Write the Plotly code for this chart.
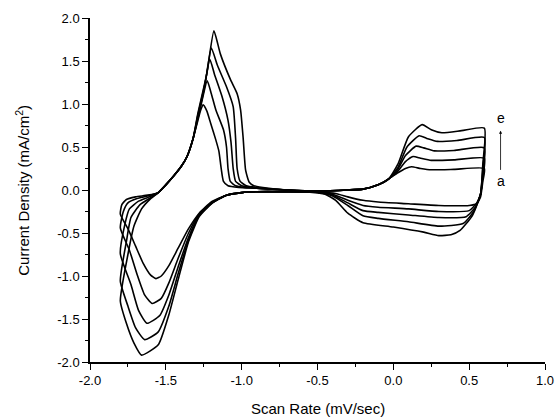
import plotly.graph_objects as go

# Curve a (smallest) ... e (largest): closed CV loops, potential (x) and current density (y)
E_a = [0.60, 0.59, 0.575, 0.55, 0.50, 0.30, 0.10, -0.10, -0.20, -0.30, -0.38, -0.50, -0.70, -0.90, -1.00, -1.10, -1.20, -1.28, -1.35, -1.42, -1.48, -1.53, -1.565, -1.60, -1.65, -1.70, -1.75, -1.80,
       -1.79, -1.76, -1.70, -1.62, -1.55, -1.50, -1.45, -1.40, -1.36, -1.32, -1.29, -1.27, -1.254,
       -1.23, -1.205, -1.17, -1.15, -1.135, -1.12, -1.09, -1.02, -0.90, -0.70, -0.50, -0.30, -0.20, -0.10, -0.03, 0.03, 0.08, 0.12, 0.18, 0.25, 0.40, 0.60]
I_a = [0.25, 0.10, -0.08, -0.16, -0.18, -0.18, -0.16, -0.14, -0.12, -0.08, -0.04, -0.025, -0.02, -0.02, -0.03, -0.06, -0.14, -0.27, -0.45, -0.68, -0.88, -1.00, -1.03, -0.99, -0.85, -0.65, -0.45, -0.28,
       -0.17, -0.11, -0.08, -0.06, -0.03, 0.06, 0.16, 0.27, 0.39, 0.60, 0.80, 0.93, 0.99,
       0.92, 0.78, 0.58, 0.45, 0.25, 0.10, 0.05, 0.03, 0.02, 0.00, -0.01, 0.00, 0.01, 0.06, 0.13, 0.20, 0.25, 0.27, 0.25, 0.235, 0.24, 0.25]

E_b = [0.60, 0.59, 0.575, 0.55, 0.50, 0.30, 0.10, -0.10, -0.20, -0.30, -0.40, -0.50, -0.70, -0.90, -1.00, -1.10, -1.20, -1.28, -1.35, -1.42, -1.48, -1.53, -1.59, -1.64, -1.69, -1.74, -1.80,
       -1.78, -1.75, -1.69, -1.62, -1.55, -1.50, -1.45, -1.40, -1.36, -1.32, -1.29, -1.26, -1.227,
       -1.20, -1.17, -1.12, -1.10, -1.09, -1.075, -1.04, -0.98, -0.90, -0.70, -0.50, -0.30, -0.20, -0.10, -0.03, 0.03, 0.08, 0.13, 0.18, 0.25, 0.40, 0.60]
I_b = [0.37, 0.15, -0.05, -0.15, -0.24, -0.25, -0.22, -0.20, -0.18, -0.12, -0.05, -0.025, -0.02, -0.02, -0.03, -0.06, -0.15, -0.28, -0.50, -0.80, -1.08, -1.26, -1.32, -1.22, -0.98, -0.70, -0.44,
       -0.25, -0.15, -0.10, -0.07, -0.03, 0.06, 0.16, 0.27, 0.39, 0.60, 0.82, 1.05, 1.27,
       1.12, 0.93, 0.70, 0.50, 0.25, 0.10, 0.05, 0.03, 0.02, 0.00, -0.01, 0.00, 0.01, 0.06, 0.13, 0.22, 0.33, 0.39, 0.37, 0.345, 0.35, 0.37]

E_c = [0.60, 0.59, 0.575, 0.54, 0.48, 0.30, 0.10, -0.10, -0.20, -0.30, -0.40, -0.50, -0.70, -0.90, -1.00, -1.10, -1.20, -1.28, -1.35, -1.42, -1.48, -1.54, -1.625, -1.68, -1.73, -1.80,
       -1.77, -1.74, -1.68, -1.61, -1.55, -1.50, -1.45, -1.40, -1.36, -1.32, -1.29, -1.25, -1.21,
       -1.18, -1.13, -1.09, -1.07, -1.056, -1.04, -1.00, -0.94, -0.90, -0.70, -0.50, -0.30, -0.20, -0.10, -0.03, 0.03, 0.08, 0.15, 0.20, 0.27, 0.40, 0.60]
I_c = [0.49, 0.20, -0.05, -0.20, -0.31, -0.32, -0.29, -0.26, -0.24, -0.15, -0.06, -0.025, -0.02, -0.02, -0.03, -0.06, -0.15, -0.29, -0.55, -0.90, -1.22, -1.46, -1.55, -1.40, -1.10, -0.74,
       -0.40, -0.22, -0.13, -0.08, -0.03, 0.06, 0.16, 0.27, 0.39, 0.60, 0.84, 1.15, 1.52,
       1.35, 1.09, 0.81, 0.55, 0.25, 0.10, 0.05, 0.03, 0.02, 0.00, -0.01, 0.00, 0.01, 0.06, 0.13, 0.24, 0.40, 0.51, 0.49, 0.455, 0.46, 0.49]

E_d = [0.60, 0.59, 0.575, 0.53, 0.46, 0.30, 0.10, -0.10, -0.20, -0.30, -0.40, -0.50, -0.70, -0.90, -1.00, -1.10, -1.20, -1.28, -1.35, -1.42, -1.48, -1.55, -1.64, -1.70, -1.75, -1.80,
       -1.76, -1.73, -1.67, -1.60, -1.55, -1.50, -1.45, -1.40, -1.36, -1.32, -1.29, -1.24, -1.20,
       -1.16, -1.10, -1.056, -1.04, -1.03, -1.01, -0.97, -0.90, -0.70, -0.50, -0.30, -0.20, -0.10, -0.03, 0.03, 0.09, 0.17, 0.22, 0.29, 0.42, 0.60]
I_d = [0.61, 0.25, -0.05, -0.25, -0.39, -0.42, -0.37, -0.33, -0.30, -0.18, -0.07, -0.025, -0.02, -0.02, -0.03, -0.06, -0.16, -0.30, -0.58, -0.98, -1.35, -1.65, -1.74, -1.60, -1.35, -1.06,
       -0.60, -0.32, -0.17, -0.09, -0.03, 0.06, 0.16, 0.27, 0.39, 0.60, 0.86, 1.25, 1.65,
       1.45, 1.20, 0.97, 0.60, 0.25, 0.10, 0.05, 0.03, 0.00, -0.01, 0.00, 0.01, 0.06, 0.13, 0.26, 0.50, 0.63, 0.60, 0.565, 0.575, 0.61]

E_e = [0.60, 0.59, 0.575, 0.52, 0.44, 0.38, 0.30, 0.20, 0.00, -0.20, -0.30, -0.38, -0.45, -0.55, -0.70, -0.90, -1.00, -1.10, -1.20, -1.28, -1.35, -1.42, -1.48, -1.55, -1.66, -1.71, -1.76, -1.80,
       -1.75, -1.71, -1.66, -1.60, -1.55, -1.50, -1.45, -1.40, -1.36, -1.32, -1.29, -1.23, -1.183,
       -1.14, -1.073, -1.03, -1.007, -0.99, -0.974, -0.95, -0.92, -0.86, -0.70, -0.50, -0.30, -0.20, -0.10, -0.03, 0.03, 0.10, 0.19, 0.25, 0.32, 0.45, 0.60]
I_e = [0.72, 0.30, -0.05, -0.30, -0.47, -0.52, -0.53, -0.49, -0.43, -0.38, -0.27, -0.12, -0.05, -0.025, -0.02, -0.02, -0.03, -0.06, -0.16, -0.31, -0.60, -1.05, -1.45, -1.80, -1.92, -1.78, -1.55, -1.29,
       -0.75, -0.42, -0.22, -0.10, -0.03, 0.06, 0.16, 0.27, 0.39, 0.60, 0.88, 1.35, 1.85,
       1.58, 1.28, 1.12, 0.93, 0.60, 0.23, 0.09, 0.05, 0.03, 0.00, -0.01, 0.00, 0.01, 0.06, 0.13, 0.30, 0.62, 0.76, 0.70, 0.665, 0.69, 0.72]

curves = [("a", E_a, I_a), ("b", E_b, I_b), ("c", E_c, I_c), ("d", E_d, I_d), ("e", E_e, I_e)]

x_ticks = [-2.0, -1.5, -1.0, -0.5, 0.0, 0.5, 1.0]
y_ticks = [-2.0, -1.5, -1.0, -0.5, 0.0, 0.5, 1.0, 1.5, 2.0]
x_title = "Scan Rate (mV/sec)"
y_title = "Current Density (mA/cm<sup>2</sup>)"

fig = go.Figure()
for name, E, I in curves:
    fig.add_trace(go.Scatter(x=E, y=I, mode="lines", name=name,
                             line=dict(color="black", width=1.6, shape="spline", smoothing=0.5),
                             showlegend=False))

# label "a" with arrow pointing up toward "e"
fig.add_annotation(x=0.707, y=0.69, ax=0.707, ay=0.10, xref="x", yref="y", axref="x", ayref="y",
                   text="a", showarrow=True, arrowhead=2, arrowsize=0.8, arrowwidth=0.8, arrowcolor="black",
                   standoff=0, startstandoff=2, font=dict(size=14, color="black"))
fig.add_annotation(x=0.707, y=0.84, text="e", showarrow=False, font=dict(size=14, color="black"))

# axis titles
fig.add_annotation(x=0.5, y=-0.134, xref="paper", yref="paper", text=x_title, showarrow=False,
                   xanchor="center", yanchor="middle", font=dict(size=15, color="black"))
fig.add_annotation(x=-0.150, y=0.5, xref="paper", yref="paper", text=y_title, showarrow=False,
                   textangle=-90, xanchor="center", yanchor="middle", font=dict(size=15, color="black"))

font_family = "Liberation Sans, Arial, sans-serif"
fig.update_layout(
    width=555, height=418,
    margin=dict(l=90, r=10, t=18, b=56),
    paper_bgcolor="white", plot_bgcolor="white",
    font=dict(family=font_family, color="black"),
)
fig.update_xaxes(range=[-2, 1], tickvals=x_ticks, ticktext=[f"{v:.1f}" for v in x_ticks],
                 ticks="outside", ticklen=6, tickwidth=1, tickcolor="black",
                 minor=dict(ticks="outside", ticklen=3, dtick=0.25, tick0=0, tickcolor="black"),
                 showline=True, linecolor="black", linewidth=1.5, showgrid=False, zeroline=False,
                 tickfont=dict(size=13), automargin=False)
fig.update_yaxes(range=[-2, 2], tickvals=y_ticks, ticktext=[f"{v:.1f}" for v in y_ticks],
                 ticks="outside", ticklen=6, tickwidth=1, tickcolor="black",
                 minor=dict(ticks="outside", ticklen=3, dtick=0.25, tick0=0, tickcolor="black"),
                 showline=True, linecolor="black", linewidth=1.5, showgrid=False, zeroline=False,
                 tickfont=dict(size=13), automargin=False)

fig.write_html("out.html")
